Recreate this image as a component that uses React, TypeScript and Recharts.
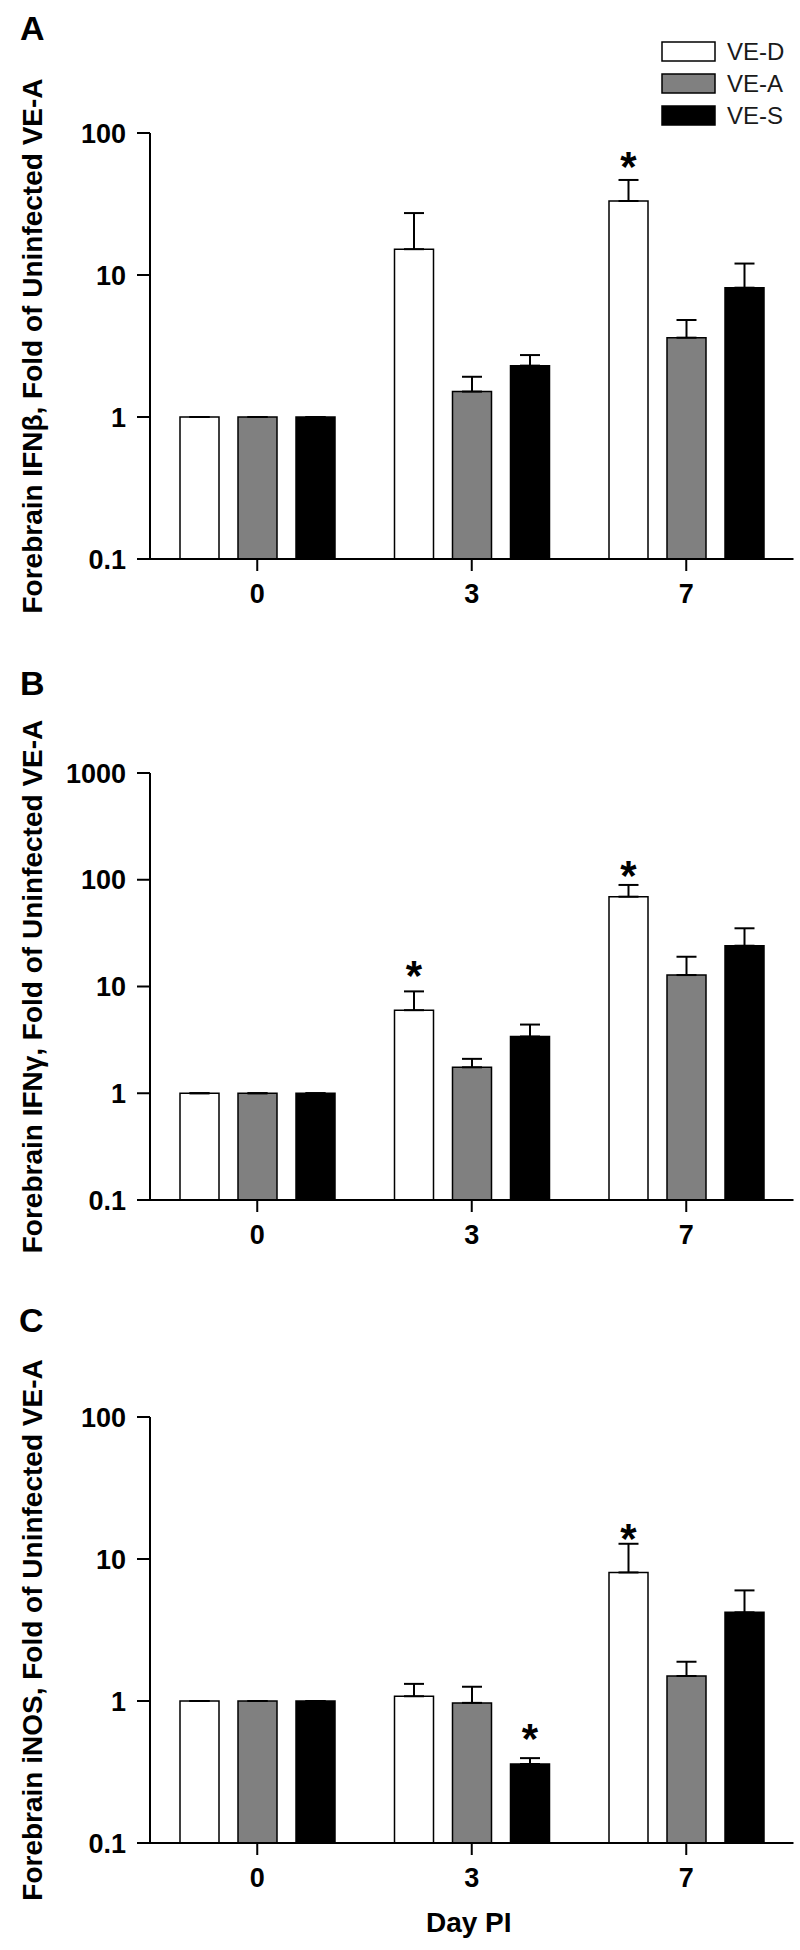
import React from 'react';
import { BarChart, Bar, XAxis, YAxis, ErrorBar, LabelList, Label, Legend } from 'recharts';

const FONT = "'Liberation Sans', Arial, Helvetica, sans-serif";

// Categories and series
const days = ['0', '3', '7'];
const seriesNames = ['VE-D', 'VE-A', 'VE-S'];
const seriesFills = ['#ffffff', '#808080', '#000000'];
const seriesKeys = ['d', 'a', 's'];

// Panel A: Forebrain IFN-beta
const ifnbD = [1, 15.2, 33.2];
const ifnbA = [1, 1.51, 3.62];
const ifnbS = [1, 2.3, 8.14];
const ifnbDErr = [0, 12.1, 13.5];
const ifnbAErr = [0, 0.41, 1.2];
const ifnbSErr = [0, 0.43, 3.9];
const ifnbDStar = [null, null, 66.7];
const ifnbAStar = [null, null, null];
const ifnbSStar = [null, null, null];
const ifnbTicks = [0.1, 1, 10, 100];

// Panel B: Forebrain IFN-gamma
const ifngD = [1, 6.0, 69.4];
const ifngA = [1, 1.75, 12.8];
const ifngS = [1, 3.4, 24.1];
const ifngDErr = [0, 3.0, 20];
const ifngAErr = [0, 0.35, 6.2];
const ifngSErr = [0, 1.0, 11];
const ifngDStar = [null, 15.2, 132];
const ifngAStar = [null, null, null];
const ifngSStar = [null, null, null];
const ifngTicks = [0.1, 1, 10, 100, 1000];

// Panel C: Forebrain iNOS
const inosD = [1, 1.08, 8.04];
const inosA = [1, 0.97, 1.5];
const inosS = [1, 0.36, 4.21];
const inosDErr = [0, 0.24, 4.76];
const inosAErr = [0, 0.29, 0.39];
const inosSErr = [0, 0.036, 1.8];
const inosDStar = [null, null, 16.1];
const inosAStar = [null, null, null];
const inosSStar = [null, 0.625, null];
const inosTicks = [0.1, 1, 10, 100];

type N = number | null;

function buildRows(vals: number[][], errs: number[][], stars: N[][]) {
  return days.map((day, i) => {
    const row: any = { day };
    seriesKeys.forEach((k, j) => {
      row[k] = vals[j][i];
      row[k + 'Err'] = [0, errs[j][i]];
      row[k + 'Star'] = stars[j][i];
    });
    return row;
  });
}

const STAR_SIZE = 42;

const makeStar = (vals: number[], base: number) => (props: any) => {
  const { value, index } = props;
  if (value == null || index == null) return null;
  const vb = props.viewBox || props;
  const x = Number(vb.x), y = Number(vb.y), width = Number(vb.width), height = Number(vb.height);
  const v = vals[index];
  const ppd = height / Math.log10(v / base);
  const cy = y + height - Math.log10(value / base) * ppd;
  return (
    <text
      x={x + width / 2}
      y={cy + 0.555 * STAR_SIZE}
      textAnchor="middle"
      fontSize={STAR_SIZE}
      fontWeight="bold"
      fontFamily={FONT}
      fill="#000"
    >
      *
    </text>
  );
};

const LegendBox = (props: any) => {
  const raw = props.payload && props.payload.length ? props.payload : seriesNames.map((n, i) => ({ value: n, color: seriesFills[i] }));
  const payload = [...raw].sort((a: any, b: any) => seriesNames.indexOf(a.value) - seriesNames.indexOf(b.value));
  return (
    <svg width={145} height={110}>
      {payload.map((p: any, i: number) => {
        const idx = seriesNames.indexOf(p.value);
        const fill = seriesFills[idx >= 0 ? idx : i];
        return (
          <g key={i}>
            <rect x={7} y={12 + i * 32} width={53} height={19} fill={fill} stroke="#000" strokeWidth={1.5} />
            <text x={72} y={30 + i * 32} fontSize={24} fontFamily={FONT} fill="#1a1a1a">
              {p.value}
            </text>
          </g>
        );
      })}
    </svg>
  );
};

type PanelProps = {
  vals: number[][];
  errs: number[][];
  stars: N[][];
  ticks: number[];
  title: string;
  top: number;
  height: number;
  marginTop: number;
  xHeight: number;
  marginBottom: number;
  legend?: boolean;
  xLabel?: string;
};

const axisStroke = { stroke: '#000', strokeWidth: 2 };
const tickStyle = { fill: '#000', fontSize: 27, fontWeight: 'bold', fontFamily: FONT };

const Panel = (p: PanelProps) => {
  const rows = buildRows(p.vals, p.errs, p.stars);
  const domain = [p.ticks[0], p.ticks[p.ticks.length - 1]];
  return (
    <div style={{ position: 'absolute', left: 0, top: p.top, width: 800, height: p.height }}>
      <BarChart
        width={800}
        height={p.height}
        data={rows}
        margin={{ top: p.marginTop, right: 6.5, bottom: p.marginBottom, left: 0 }}
        barSize={39}
        barGap={19}
      >
        <XAxis
          dataKey="day"
          interval={0}
          height={p.xHeight}
          tickSize={12}
          tickMargin={13}
          axisLine={axisStroke}
          tickLine={axisStroke}
          tick={tickStyle}
        >
          {p.xLabel ? (
            <Label
              content={(lp: any) => {
                const vb = lp.viewBox || {};
                return (
                  <text
                    x={vb.x + vb.width / 2 - 3}
                    y={vb.y + 89}
                    textAnchor="middle"
                    fontSize={28}
                    fontWeight="bold"
                    fontFamily={FONT}
                    fill="#000"
                  >
                    {p.xLabel}
                  </text>
                );
              }}
            />
          ) : null}
        </XAxis>
        <YAxis
          type="number"
          scale="log"
          domain={domain}
          ticks={p.ticks}
          allowDataOverflow
          width={150}
          tickSize={13}
          tickMargin={11}
          axisLine={axisStroke}
          tickLine={axisStroke}
          tick={tickStyle}
          tickFormatter={(v: number) => String(v)}
        >
          <Label
            content={(lp: any) => {
              const vb = lp.viewBox || {};
              const cy = vb.y + vb.height / 2;
              return (
                <text
                  x={42}
                  y={cy}
                  transform={`rotate(-90, 42, ${cy})`}
                  textAnchor="middle"
                  fontSize={28}
                  fontWeight="bold"
                  fontFamily={FONT}
                  fill="#000"
                >
                  {p.title}
                </text>
              );
            }}
          />
        </YAxis>
        {p.legend ? (
          <Legend
            layout="vertical"
            align="center"
            verticalAlign="middle"
            content={<LegendBox />}
            wrapperStyle={{ left: 655, top: 30, width: 145, height: 110 }}
          />
        ) : null}
        {seriesKeys.map((k, i) => (
          <Bar
            key={k}
            dataKey={k}
            name={seriesNames[i]}
            fill={seriesFills[i]}
            stroke="#000"
            strokeWidth={1.5}
            isAnimationActive={false}
          >
            <ErrorBar dataKey={k + 'Err'} direction="y" width={10} stroke="#000" strokeWidth={2} isAnimationActive={false} />
            <LabelList dataKey={k + 'Star'} content={makeStar(p.vals[i], domain[0])} />
          </Bar>
        ))}
      </BarChart>
    </div>
  );
};

export default function App() {
  return (
    <div style={{ position: 'absolute', left: 0, top: 0, width: 800, height: 1950, background: '#fff', fontFamily: FONT }}>
      <Panel
        vals={[ifnbD, ifnbA, ifnbS]}
        errs={[ifnbDErr, ifnbAErr, ifnbSErr]}
        stars={[ifnbDStar, ifnbAStar, ifnbSStar]}
        ticks={ifnbTicks}
        title="Forebrain IFNβ, Fold of Uninfected VE-A"
        top={0}
        height={640}
        marginTop={133}
        xHeight={60}
        marginBottom={21}
        legend
      />
      <Panel
        vals={[ifngD, ifngA, ifngS]}
        errs={[ifngDErr, ifngAErr, ifngSErr]}
        stars={[ifngDStar, ifngAStar, ifngSStar]}
        ticks={ifngTicks}
        title="Forebrain IFNγ, Fold of Uninfected VE-A"
        top={640}
        height={640}
        marginTop={133}
        xHeight={60}
        marginBottom={20}
      />
      <Panel
        vals={[inosD, inosA, inosS]}
        errs={[inosDErr, inosAErr, inosSErr]}
        stars={[inosDStar, inosAStar, inosSStar]}
        ticks={inosTicks}
        title="Forebrain iNOS, Fold of Uninfected VE-A"
        top={1280}
        height={670}
        marginTop={137}
        xHeight={100}
        marginBottom={7}
        xLabel="Day PI"
      />
      <svg width={800} height={1950} style={{ position: 'absolute', left: 0, top: 0, pointerEvents: 'none' }}>
        <text x={20} y={40} fontSize={34} fontWeight="bold" fontFamily={FONT} fill="#000">A</text>
        <text x={20} y={695} fontSize={34} fontWeight="bold" fontFamily={FONT} fill="#000">B</text>
        <text x={19} y={1332} fontSize={34} fontWeight="bold" fontFamily={FONT} fill="#000">C</text>
      </svg>
    </div>
  );
}
